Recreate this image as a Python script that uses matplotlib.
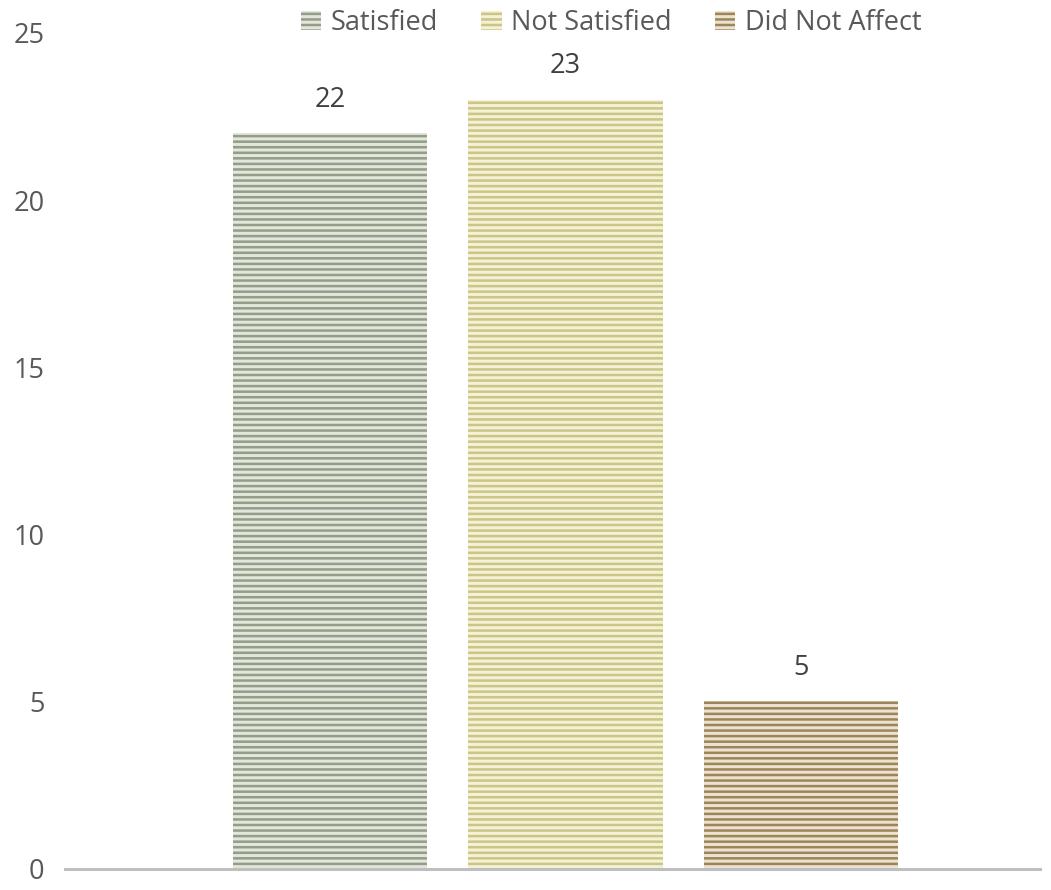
import matplotlib.pyplot as plt
import numpy as np

plt.rcParams['font.family'] = ['Open Sans', 'DejaVu Sans']
plt.rcParams['hatch.linewidth'] = 1.8

# Data
series = ['Satisfied', 'Not Satisfied', 'Did Not Affect']
values = [22, 23, 5]
light_colors = ['#e2e6dc', '#f3f1d6', '#ece2d0']
dark_colors = ['#939d87', '#ccc585', '#9d8559']

fig = plt.figure(figsize=(10.51, 8.9), dpi=100)
ax = fig.add_axes([0.062, 0.024, 0.9275, 0.939])

x = np.arange(len(series))
for i in range(len(series)):
    ax.bar(x[i], values[i], width=0.825, color=light_colors[i],
           edgecolor=dark_colors[i], hatch='---', linewidth=0,
           label=series[i])
    ax.annotate(str(values[i]), (x[i], values[i]), xytext=(0, 14),
                textcoords='offset points', ha='center', va='bottom',
                fontsize=19.5, color='#404040')

ax.set_xlim(-1.123, 3.013)
ax.set_ylim(0, 25)
ax.set_yticks([0, 5, 10, 15, 20, 25])
ax.set_xticks([])
ax.tick_params(axis='y', length=0, pad=15, labelsize=19.5, labelcolor='#595959')

for s in ['top', 'right', 'left']:
    ax.spines[s].set_visible(False)
ax.spines['bottom'].set_color('#bfbfbf')
ax.spines['bottom'].set_linewidth(2.2)

leg = ax.legend(loc='center', bbox_to_anchor=(0.56, 1.012), ncol=3,
                frameon=False, fontsize=19.5, handlelength=0.75, handleheight=0.75,
                handletextpad=0.35, columnspacing=1.6)
for t in leg.get_texts():
    t.set_color('#595959')

plt.savefig('out.png', dpi=100)
